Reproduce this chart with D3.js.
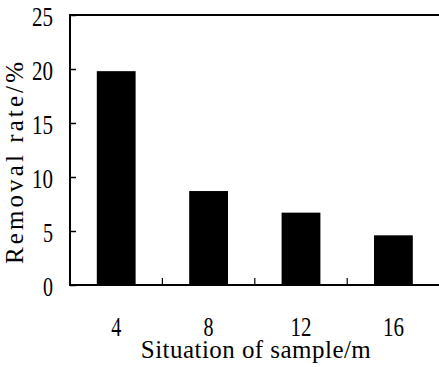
<!DOCTYPE html>
<html>
<head>
<meta charset="utf-8">
<script src="https://cdn.jsdelivr.net/npm/d3@7"></script>
<style>
  body { margin: 0; background: #fff; }
  svg { display: block; }
  text { font-family: "Liberation Serif", serif; fill: #000; }
</style>
</head>
<body>
<svg id="chart" width="439" height="367"></svg>
<script>
// data
const positions = ['4', '8', '12', '16'];
const removalRate = [19.8, 8.7, 6.7, 4.6];
const yTicks = [0, 5, 10, 15, 20, 25];

const margin = { top: 15, right: 0, bottom: 82, left: 70 };
const W = 439, H = 367;
const width = W - margin.left - margin.right + 0.6;
const height = H - margin.top - margin.bottom;

const svg = d3.select('#chart');
const g = svg.append('g')
  .attr('transform', 'translate(' + margin.left + ',' + margin.top + ')');

const x = d3.scaleBand()
  .domain(positions)
  .range([0, width])
  .paddingInner(0.58)
  .paddingOuter(0.29);

const y = d3.scaleLinear()
  .domain([0, 25])
  .range([height, 0]);

// bars
g.selectAll('rect.bar')
  .data(positions)
  .enter()
  .append('rect')
  .attr('class', 'bar')
  .attr('x', d => x(d))
  .attr('y', (d, i) => y(removalRate[i]))
  .attr('width', x.bandwidth())
  .attr('height', (d, i) => y(0) - y(removalRate[i]))
  .attr('fill', '#000');

// y axis, ticks pointing inward
const yAxis = g.append('g')
  .call(d3.axisLeft(y).tickValues(yTicks).tickSizeInner(-6).tickSizeOuter(0).tickPadding(17));
yAxis.select('.domain').remove();
yAxis.selectAll('line').attr('stroke', '#000').attr('stroke-width', 1.5);
yAxis.selectAll('text')
  .style('font-size', '27px')
  .attr('dy', '0.38em')
  .attr('textLength', d => d < 10 ? 10 : 21)
  .attr('lengthAdjust', 'spacingAndGlyphs');

// frame: left, bottom, top
g.append('line').attr('x1', 0).attr('x2', 0).attr('y1', 0).attr('y2', height)
  .attr('stroke', '#000').attr('stroke-width', 2);
g.append('line').attr('x1', -1).attr('x2', width).attr('y1', height).attr('y2', height)
  .attr('stroke', '#000').attr('stroke-width', 2);
g.append('line').attr('x1', -1).attr('x2', width).attr('y1', 0).attr('y2', 0)
  .attr('stroke', '#000').attr('stroke-width', 2);

// x ticks between categories, pointing up
const bounds = positions.slice(1).map((d, i) => (x(positions[i]) + x.bandwidth() + x(d)) / 2);
g.selectAll('line.xtick')
  .data(bounds)
  .enter()
  .append('line')
  .attr('class', 'xtick')
  .attr('x1', d => d).attr('x2', d => d)
  .attr('y1', height).attr('y2', height - 7)
  .attr('stroke', '#000').attr('stroke-width', 1.2);

// x tick labels at band centres
const xAxis = g.append('g')
  .attr('transform', 'translate(0,' + height + ')')
  .call(d3.axisBottom(x).tickSize(0).tickPadding(32));
xAxis.select('.domain').remove();
xAxis.selectAll('text')
  .style('font-size', '27px')
  .attr('textLength', d => d.length > 1 ? 21 : 10)
  .attr('lengthAdjust', 'spacingAndGlyphs');

// titles
svg.append('text')
  .attr('x', margin.left + width / 2 + 1)
  .attr('y', 358)
  .attr('text-anchor', 'middle')
  .style('font-size', '25px')
  .attr('textLength', 230)
  .attr('lengthAdjust', 'spacing')
  .text('Situation of sample/m');

svg.append('text')
  .attr('transform', 'translate(23,163) rotate(-90)')
  .attr('text-anchor', 'middle')
  .style('font-size', '25px')
  .attr('textLength', 202)
  .attr('lengthAdjust', 'spacing')
  .text('Removal rate/%');
</script>
</body>
</html>
